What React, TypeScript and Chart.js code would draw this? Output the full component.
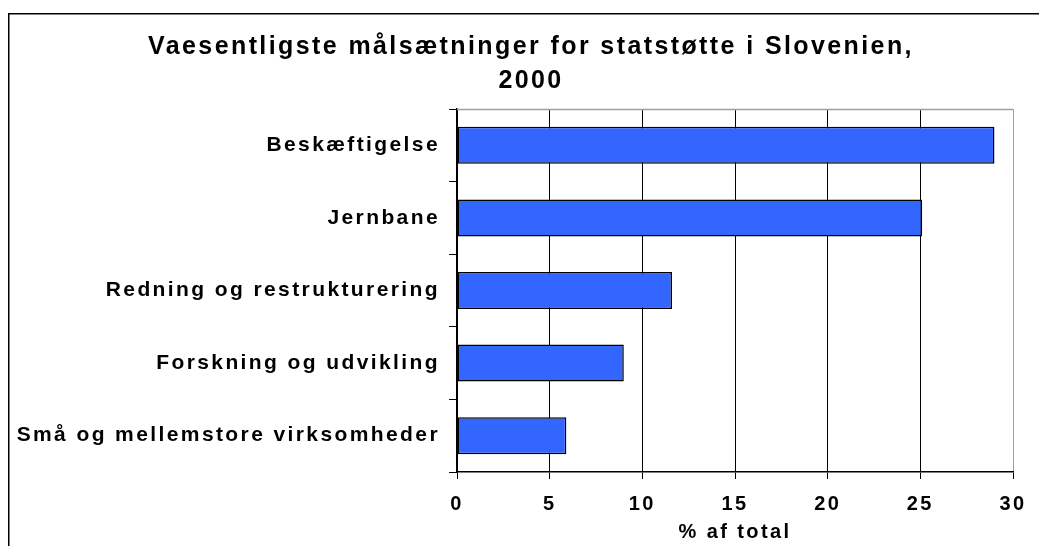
import React, { useEffect, useRef } from "react";
import { Chart, registerables } from "chart.js";

Chart.register(...registerables);

const categories = [
  "Beskæftigelse",
  "Jernbane",
  "Redning og restrukturering",
  "Forskning og udvikling",
  "Små og mellemstore virksomheder",
];
const values = [29.0, 25.1, 11.6, 9.0, 5.9];
const xMin = 0;
const xMax = 30;
const xStep = 5;
const titleLines = ["Vaesentligste målsætninger for statstøtte i Slovenien,", "2000"];
const xAxisTitle = "% af total";

const FONT = "'Liberation Sans', Arial, sans-serif";
const SPACING = "2.4px";
const CW = 1046;
const CH = 560;

const setSpacing = (chart: any) => {
  try {
    chart.ctx.letterSpacing = SPACING;
  } catch (e) {}
};

const framePlugin = {
  id: "frameAndSpacing",
  beforeUpdate(chart: any) {
    setSpacing(chart);
  },
  beforeLayout(chart: any) {
    setSpacing(chart);
  },
  afterLayout(chart: any) {
    const tb = chart.titleBlock;
    if (tb) {
      tb.left = 0;
      tb.right = chart.width;
      tb.width = chart.width;
    }
  },
  beforeDraw(chart: any) {
    setSpacing(chart);
    const ctx = chart.ctx;
    ctx.save();
    ctx.fillStyle = "#ffffff";
    ctx.fillRect(0, 0, chart.width, chart.height);
    ctx.strokeStyle = "#000000";
    ctx.lineWidth = 1.5;
    ctx.strokeRect(0.75, 5.75, chart.width + 20, chart.height + 20);
    ctx.restore();
  },
  afterDatasetsDraw(chart: any) {
    const { ctx, chartArea } = chart;
    ctx.save();
    ctx.strokeStyle = "#a0a0a0";
    ctx.lineWidth = 1.5;
    ctx.beginPath();
    ctx.moveTo(chartArea.left, chartArea.top + 0.5);
    ctx.lineTo(chartArea.right, chartArea.top + 0.5);
    ctx.stroke();
    ctx.restore();
  },
};

export default function App() {
  const ref = useRef<HTMLCanvasElement | null>(null);

  useEffect(() => {
    if (!ref.current) return;
    const chart = new Chart(ref.current, {
      type: "bar",
      data: {
        labels: categories,
        datasets: [
          {
            data: values,
            backgroundColor: "#3366FF",
            borderColor: "#000000",
            borderWidth: 1.5,
            borderSkipped: false,
            barPercentage: 0.51,
            categoryPercentage: 1.0,
          },
        ],
      },
      options: {
        indexAxis: "y",
        responsive: false,
        animation: false,
        devicePixelRatio: 1,
        layout: { padding: { top: 0, left: 0, right: 41, bottom: 16 } },
        plugins: {
          legend: { display: false },
          tooltip: { enabled: false },
          title: {
            display: true,
            text: titleLines,
            color: "#000000",
            font: { family: FONT, size: 25, weight: "bold", lineHeight: 34 / 25 },
            padding: { top: 22.5, bottom: 10.5 },
          },
        },
        scales: {
          x: {
            type: "linear",
            min: xMin,
            max: xMax,
            ticks: {
              stepSize: xStep,
              color: "#000000",
              font: { family: FONT, size: 20, weight: "bold" },
              padding: 13,
            },
            grid: {
              color: (c: any) => (c.tick && c.tick.value === xMax ? "#a0a0a0" : "#000000"),
              tickColor: "#000000",
              lineWidth: 1,
              tickLength: 7,
              drawOnChartArea: true,
            },
            border: { color: "#000000", width: 1.5 },
            title: {
              display: true,
              text: xAxisTitle,
              color: "#000000",
              font: { family: FONT, size: 20, weight: "bold" },
              padding: { top: 0, bottom: 8 },
            },
            afterFit: (s: any) => {
              s.height = 80;
            },
          },
          y: {
            type: "category",
            ticks: {
              color: "#000000",
              font: { family: FONT, size: 21, weight: "bold" },
              padding: 9,
            },
            grid: {
              drawOnChartArea: false,
              drawTicks: true,
              tickLength: 8,
              color: "#000000",
              tickColor: "#000000",
              offset: true,
            },
            border: { color: "#000000", width: 1.5 },
            afterFit: (s: any) => {
              s.width = 449;
            },
          },
        },
      },
      plugins: [framePlugin],
    } as any);
    return () => chart.destroy();
  }, []);

  return (
    <div style={{ width: 1039, height: 538, overflow: "hidden", position: "relative" }}>
      <canvas ref={ref} width={CW} height={CH} style={{ display: "block", width: CW, height: CH }} />
    </div>
  );
}
